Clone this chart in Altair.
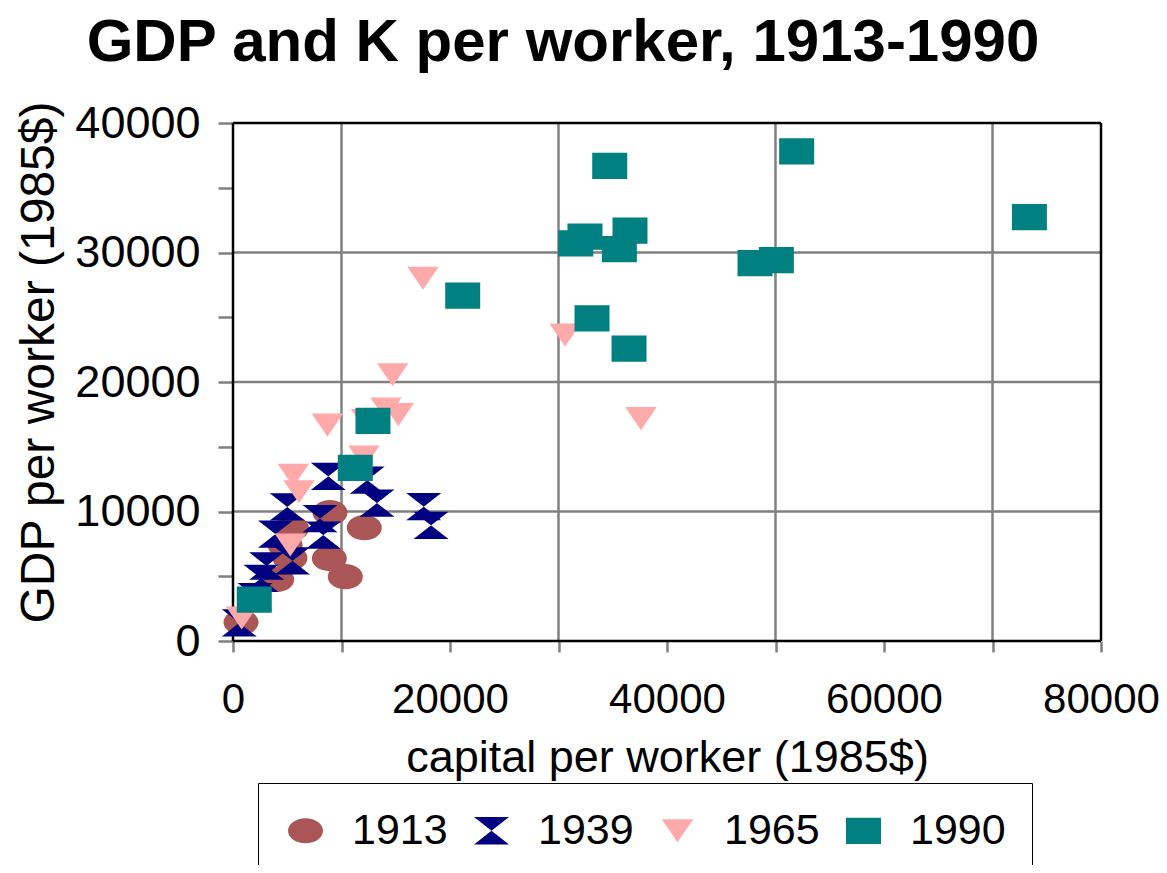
import altair as alt
import pandas as pd

# ---- data ----
years = ["1913", "1939", "1965", "1990"]

k_1913 = [740, 4030, 5250, 5400, 4800, 8940, 12100, 8880, 10350]
gdp_1913 = [1440, 4750, 6400, 8700, 7400, 9910, 8750, 6380, 4970]

k_1939 = [580, 2030, 2580, 3100, 5480, 3920, 8320, 8020, 5000, 8780, 12370, 13270, 17580, 18250]
gdp_1939 = [1400, 3420, 4840, 5790, 6180, 8260, 8180, 9450, 10350, 12710, 12420, 10650, 10370, 8930]

k_1965 = [800, 5280, 6080, 5560, 12070, 8700, 12300, 14100, 15240, 14720, 17510, 30600, 37600]
gdp_1965 = [1780, 7410, 11530, 12800, 14200, 16670, 17030, 17910, 17480, 20560, 28010, 23630, 17170]

k_1990 = [1960, 11270, 12900, 21170, 33090, 36500, 31590, 32440, 35610, 36590, 34720, 48110, 50080, 51950, 73400]
gdp_1990 = [3190, 13360, 16990, 26670, 24920, 22570, 30710, 31220, 30270, 31680, 36680, 29170, 29420, 37810, 32740]

x_grid = [10000, 30000, 50000, 70000]
y_grid = [10000, 20000, 30000]
x_frame = [0, 80000]
y_frame = [0, 40000]
x_ticks = [0, 10000, 20000, 30000, 40000, 50000, 60000, 70000, 80000]
y_ticks = [0, 5000, 10000, 15000, 20000, 25000, 30000, 35000, 40000]

# ---- styles ----
colors = ["#AA5656", "#000080", "#FFAAAA", "#008080"]
ELLIPSE = "M-1,0 A1,0.72 0 1,1 1,0 A1,0.72 0 1,1 -1,0 Z"
HOURGLASS = "M-1,-0.78 L1,-0.78 L-1,0.78 L1,0.78 Z"
TRIANGLE = "M-0.9,-0.66 L0.9,-0.66 L0,0.66 Z"
RECT = "M-1,-0.75 L1,-0.75 L1,0.75 L-1,0.75 Z"
shapes = [ELLIPSE, HOURGLASS, TRIANGLE, RECT]
FONT = "Liberation Sans"
GRID = "#808080"

rows = []
idx = 0
for yr, ks, gs in zip(years, [k_1913, k_1939, k_1965, k_1990], [gdp_1913, gdp_1939, gdp_1965, gdp_1990]):
    for a, b in zip(ks, gs):
        rows.append({"year": yr, "k": a, "gdp": b, "idx": idx})
        idx += 1
df = pd.DataFrame(rows)

xscale = alt.Scale(domain=[0, 80000], nice=False, zero=False)
yscale = alt.Scale(domain=[0, 40000], nice=False, zero=False)

xaxis = alt.Axis(
    values=x_ticks,
    labelExpr="datum.value % 20000 === 0 ? datum.label : ''",
    format="d",
    grid=False,
    domain=False,
    tickColor=GRID,
    tickSize=11,
    tickWidth=2.5,
    labelFontSize=42,
    labelFont=FONT,
    labelColor="black",
    labelPadding=27,
    labelFlush=False,
    labelOverlap=False,
    title="capital per worker (1985$)",
    titleFont=FONT,
    titleFontSize=45,
    titleFontWeight="normal",
    titleColor="black",
    titleY=130,
    titleBaseline="alphabetic",
)
yaxis = alt.Axis(
    values=y_ticks,
    labelExpr="datum.value % 10000 === 0 ? datum.label : ''",
    format="d",
    grid=False,
    domain=False,
    tickColor=GRID,
    tickSize=15,
    tickWidth=2.5,
    labelFontSize=45,
    labelFont=FONT,
    labelColor="black",
    labelPadding=18,
    labelOverlap=False,
    title="GDP per worker (1985$)",
    titleFont=FONT,
    titleFontSize=48,
    titleFontWeight="normal",
    titleColor="black",
    titleX=-180,
    titleY=239,
    titleAlign="center",
    titleBaseline="alphabetic",
    titleAngle=270,
)

leg = alt.Legend(
    title=None,
    orient="none",
    legendX=25,
    legendY=660,
    direction="horizontal",
    columns=4,
    labelFontSize=43,
    labelFont=FONT,
    labelColor="black",
    symbolSize=1225,
    symbolStrokeWidth=0,
    symbolOpacity=1,
    labelOffset=25,
    columnPadding=22,
    padding=26,
    strokeColor="black",
    fillColor="white",
)

gx = alt.Chart(pd.DataFrame({"v": x_grid})).mark_rule(color=GRID, strokeWidth=2.5).encode(
    x=alt.X("v:Q", scale=xscale, axis=xaxis)
)
gy = alt.Chart(pd.DataFrame({"v": y_grid})).mark_rule(color=GRID, strokeWidth=2.5).encode(
    y=alt.Y("v:Q", scale=yscale, axis=yaxis)
)
fx = alt.Chart(pd.DataFrame({"v": x_frame})).mark_rule(color="black", strokeWidth=2.5).encode(
    x=alt.X("v:Q", scale=xscale, axis=xaxis)
)
fy = alt.Chart(pd.DataFrame({"v": y_frame})).mark_rule(color="black", strokeWidth=2.5).encode(
    y=alt.Y("v:Q", scale=yscale, axis=yaxis)
)

pts = alt.Chart(df).mark_point(filled=True, opacity=1, strokeWidth=0).encode(
    x=alt.X("k:Q", scale=xscale, axis=xaxis),
    y=alt.Y("gdp:Q", scale=yscale, axis=yaxis),
    color=alt.Color("year:N", scale=alt.Scale(domain=years, range=colors), legend=leg),
    shape=alt.Shape("year:N", scale=alt.Scale(domain=years, range=shapes), legend=leg),
    size=alt.value(1225),
    order=alt.Order("idx:Q"),
)

chart = (
    alt.layer(gx, gy, fx, fy, pts)
    .properties(
        width=868,
        height=518,
        autosize=alt.AutoSizeParams(type="none"),
        padding={"left": 225, "top": 115, "right": 58, "bottom": 224},
        title=alt.Title(
            "GDP and K per worker, 1913-1990",
            fontSize=60,
            fontWeight="bold",
            font=FONT,
            color="black",
            anchor="middle",
            frame="group",
            dx=-104,
            offset=27,
        ),
    )
    .configure_view(stroke=None)
    .configure_legend(strokeWidth=2)
    .configure(font=FONT, background="white")
)

chart.save("out.html", embed_options={"renderer": "svg", "actions": False})
